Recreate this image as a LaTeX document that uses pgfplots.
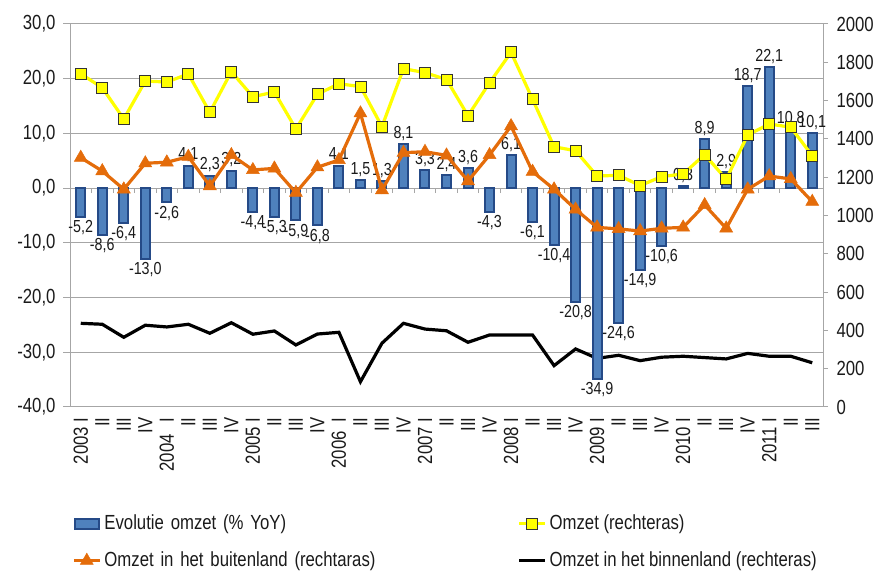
\documentclass[border=0pt]{standalone}
\usepackage{fontspec}
\setmainfont{Liberation Sans}[FakeStretch=0.82]
\usepackage{pgfplots}
\usepackage{pgfplotstable}
\pgfplotsset{compat=1.18}
\definecolor{barfill}{HTML}{4F81BD}
\definecolor{bardark}{HTML}{254A87}
\definecolor{orng}{HTML}{E46C0A}
\definecolor{ylw}{HTML}{FFFF00}
\definecolor{gridc}{HTML}{A6A6A6}
\definecolor{txt}{HTML}{1A1A1A}
\newcommand\tkfont{\fontsize{20.5}{24}\selectfont}
\newcommand\dlfont{\fontsize{17.5}{20}\selectfont}

\pgfplotstableread{
x bar omzet buiten binnen
0 -5.2 1740 1302 437
1 -8.6 1667 1232 432
2 -6.4 1504 1137 364
3 -13.0 1702 1273 427
4 -2.6 1697 1278 418
5 4.1 1739 1307 432
6 2.3 1539 1154 385
7 3.2 1751 1316 440
8 -4.4 1620 1238 380
9 -5.3 1645 1246 397
10 -5.9 1452 1119 324
11 -6.8 1633 1252 381
12 4.1 1688 1290 390
13 1.5 1673 1534 132
14 1.3 1464 1133 333
15 8.1 1767 1328 437
16 3.3 1746 1333 407
17 2.4 1710 1314 398
18 3.6 1521 1180 338
19 -4.3 1693 1316 376
20 6.1 1852 1467 376
21 -6.1 1607 1229 376
22 -10.4 1359 1137 216
23 -20.8 1338 1032 303
24 -34.9 1206 938 254
25 -24.6 1210 930 270
26 -14.9 1156 919 242
27 -10.6 1203 933 260
28 0.3 1217 938 265
29 8.9 1318 1055 258
30 2.9 1189 933 251
31 18.7 1420 1137 280
32 22.1 1478 1206 265
33 10.8 1461 1191 265
34 10.1 1312 1072 231
}\data

\begin{document}
\begin{tikzpicture}
\useasboundingbox (0,0) rectangle (883bp,574bp);
\pgfplotsset{
  base/.style={at={(70bp,167bp)}, anchor=south west, scale only axis,
    width=753bp, height=383bp, xmin=-0.5, xmax=34.5, clip=false,
    tick label style={font=\tkfont, text=txt},
    /pgf/number format/.cd, fixed, fixed zerofill, precision=1, use comma,
    assume math mode=true, 1000 sep={}},
  leftscale/.style={ymin=-40, ymax=30},
  rightscale/.style={ymin=0, ymax=2000},
}
% Axis A: left scale, grid, left axis, category labels
\begin{axis}[base, leftscale,
  axis x line*=bottom, axis y line*=left,
  axis line style={gridc, line width=1bp},
  ytick={-40,-30,...,30}, ymajorgrids,
  grid style={gridc, line width=1bp},
  tick align=outside, major tick length=7bp,
  y tick style={gridc, line width=1bp},
  x tick style={draw=none},
  yticklabel style={xshift=-4bp},
  xtick={0,...,34},
  xticklabels={2003 I,II,III,IV,2004\hspace{12bp}I,II,III,IV,2005 I,II,III,IV,2006\hspace{9bp}I,II,III,IV,2007 I,II,III,IV,2008 I,II,III,IV,2009 I,II,III,IV,2010 I,II,III,IV,2011 I,II,III},
  xticklabel style={rotate=90, anchor=east},
]
\end{axis}
% Axis C: right scale, black line, right axis
\begin{axis}[base, rightscale,
  axis x line=none, axis y line*=right,
  axis line style={gridc, line width=1bp},
  ytick={0,200,...,2000},
  tick align=outside, major tick length=5bp,
  y tick style={gridc, line width=1bp},
  yticklabel style={xshift=5bp, /pgf/number format/.cd, precision=0, fixed zerofill=false},
]
\addplot[black, line width=3.2bp] table[x=x, y=binnen]{\data};
\end{axis}
% Axis B: left scale, bars and zero line
\begin{axis}[base, leftscale,
  axis x line=middle, axis y line=none,
  axis line style={gridc, line width=1bp, -},
  xtick={-0.5,0.5,...,34.5}, xticklabels={},
  tick align=outside, major tick length=5bp,
  x tick style={gridc, line width=1bp},
  ytick=\empty,
]
\addplot[ybar, bar width=9bp, bar shift=0pt, fill=barfill, draw=bardark,
  line width=2bp,
  nodes near coords,
  nodes near coords style={font=\dlfont, text=txt, inner sep=2.5bp}]
  table[x=x, y=bar]{\data};
\end{axis}
% Axis D: right scale, Omzet and buitenland lines + legend
\begin{axis}[base, rightscale, hide axis,
  legend columns=2, legend cell align=left,
  legend style={at={(0,0)}, anchor=north west, xshift=2bp, yshift=-107bp,
    draw=none, fill=none, inner sep=0pt, font=\tkfont, text=txt,
    column sep=3bp, row sep=18bp,
    nodes={inner sep=0pt, text height=15bp, text depth=4bp},
    /tikz/column 2/.style={nodes={text width=410bp}}},
  legend image code/.code={\draw[mark repeat=2, mark phase=2, #1] plot coordinates {(0bp,0bp) (13bp,0bp) (26bp,0bp)};},
]
\addlegendimage{legend image code/.code={\draw[fill=barfill, draw=bardark, line width=2bp] (1bp,-5bp) rectangle (25bp,5bp);}}
\addlegendentry{Evolutie omzet (\% YoY)}
\addplot[ylw, line width=3.2bp, mark=square*, mark size=5.5bp,
  mark options={fill=ylw, draw=black!80, line width=0.8bp}]
  table[x=x, y=omzet]{\data};
\addlegendentry{Omzet (rechteras)}
\addplot[orng, line width=3.2bp, mark=triangle*, mark size=7.5bp,
  mark options={fill=orng, draw=orng, line width=0.5bp}]
  table[x=x, y=buiten]{\data};
\addlegendentry{Omzet in het buitenland (rechtaras)}
\addlegendimage{black, line width=3.2bp}
\addlegendentry{Omzet in het binnenland (rechteras)}
\end{axis}
\end{tikzpicture}
\end{document}
